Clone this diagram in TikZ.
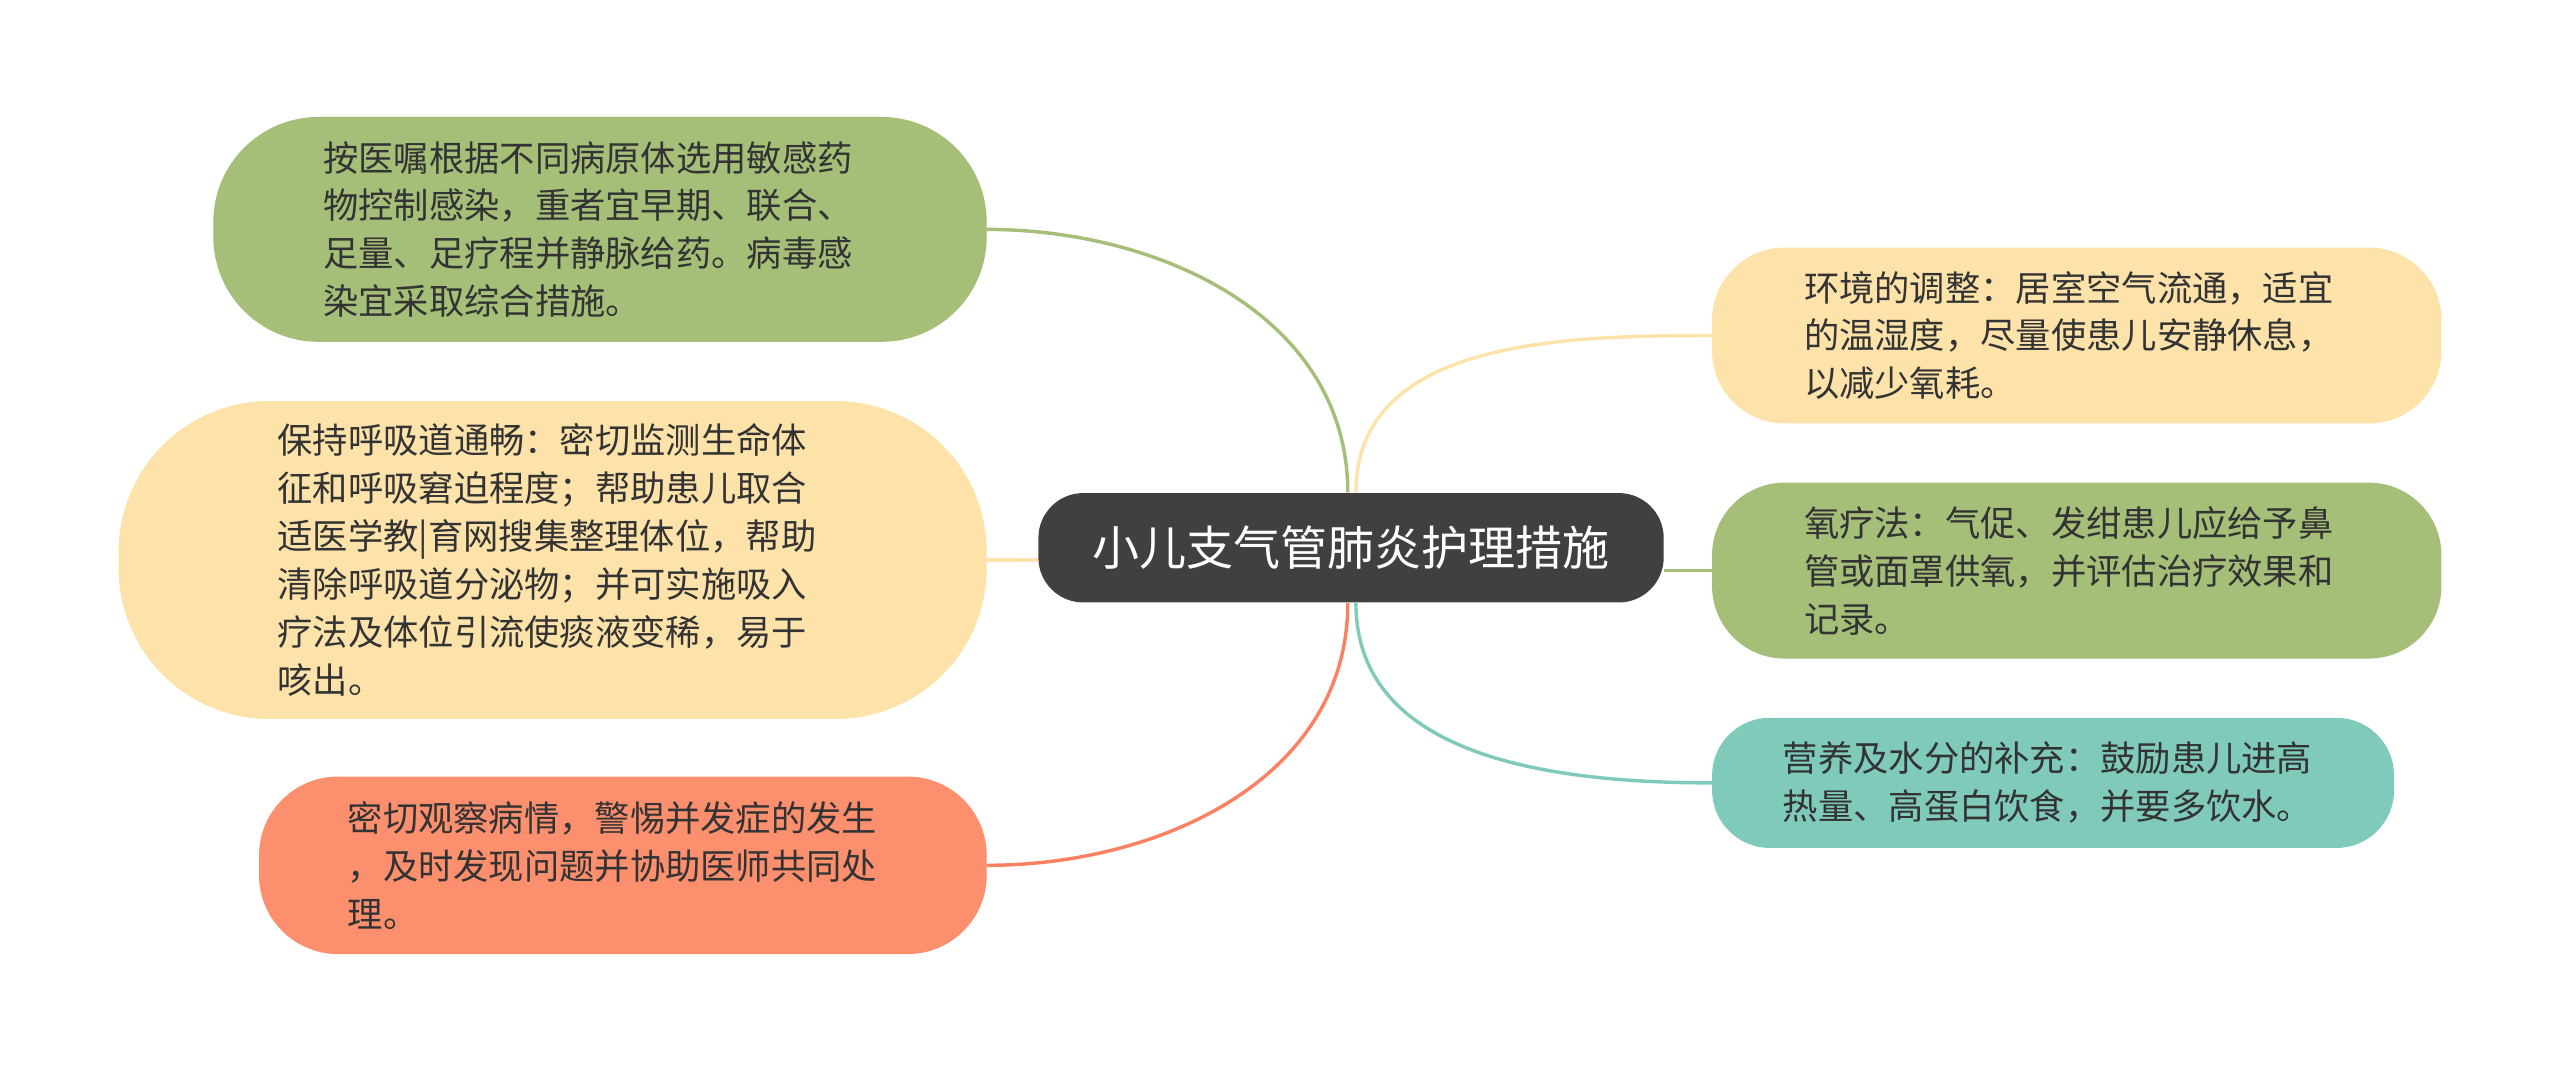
\documentclass[tikz,border=0pt]{standalone}
\usepackage{fontspec}
\newfontfamily\cjk{Noto Sans CJK SC}
\definecolor{rootgray}{HTML}{404040}
\definecolor{leafgreen}{HTML}{A5BE78}
\definecolor{leafyellow}{HTML}{FDE3A9}
\definecolor{leaforange}{HTML}{FC8F6E}
\definecolor{leafteal}{HTML}{7FCABB}
\definecolor{leaftext}{HTML}{333333}
\tikzset{
  root/.style={fill=rootgray, text=white, rounded corners=0.55cm, inner sep=0pt,
    minimum width=7.66cm, minimum height=1.34cm, font={\cjk\fontsize{16.4pt}{20pt}\selectfont}},
  leaf/.style={align=left, inner sep=0pt, text=leaftext,
    font={\cjk\fontsize{12.3pt}{16.7pt}\selectfont}},
  link/.style={line width=1.2pt}
}
\begin{document}
\begin{tikzpicture}
    \useasboundingbox (0,0) rectangle (31.36,13.12);
    \node[root] (root) at (16.55,6.41) {小儿支气管肺炎护理措施};
    % left side
    \node[leaf, fill=leafgreen, draw=leafgreen, rounded corners=1.28cm, minimum width=9.46cm,
      minimum height=2.74cm, text width=6.78cm] (drug) at (7.35,10.31)
      {按医嘱根据不同病原体选用敏感药\\物控制感染，重者宜早期、联合、\\足量、足疗程并静脉给药。病毒感\\染宜采取综合措施。};
    \node[leaf, fill=leafyellow, draw=leafyellow, rounded corners=1.84cm, minimum width=10.62cm,
      minimum height=3.88cm, text width=6.74cm] (airway) at (6.77,6.26)
      {保持呼吸道通畅：密切监测生命体\\征和呼吸窘迫程度；帮助患儿取合\\适医学教|育网搜集整理体位，帮助\\清除呼吸道分泌物；并可实施吸入\\疗法及体位引流使痰液变稀，易于\\咳出。};
    \node[leaf, fill=leaforange, draw=leaforange, rounded corners=0.96cm, minimum width=8.9cm,
      minimum height=2.16cm, text width=6.74cm] (watch) at (7.63,2.52)
      {密切观察病情，警惕并发症的发生\\，及时发现问题并协助医师共同处\\理。};
    % right side
    \node[leaf, fill=leafyellow, draw=leafyellow, rounded corners=0.88cm, minimum width=8.92cm,
      minimum height=2.14cm, text width=6.68cm] (room) at (25.44,9.01)
      {环境的调整：居室空气流通，适宜\\的温湿度，尽量使患儿安静休息，\\以减少氧耗。};
    \node[leaf, fill=leafgreen, draw=leafgreen, rounded corners=0.88cm, minimum width=8.92cm,
      minimum height=2.14cm, text width=6.68cm] (oxygen) at (25.44,6.13)
      {氧疗法：气促、发绀患儿应给予鼻\\管或面罩供氧，并评估治疗效果和\\记录。};
    \node[leaf, fill=leafteal, draw=leafteal, rounded corners=0.7cm, minimum width=8.34cm,
      minimum height=1.58cm, text width=6.62cm] (food) at (25.15,3.53)
      {营养及水分的补充：鼓励患儿进高\\热量、高蛋白饮食，并要多饮水。};
    % connectors
    \draw[link, leafgreen] ([xshift=-0.04cm]root.north) to[out=90,in=0] (drug.east);
    \draw[link, leafyellow] (airway.east) -- (airway.east -| root.west);
    \draw[link, leaforange!90!red] ([xshift=-0.04cm]root.south) to[out=-90,in=0] (watch.east);
    \draw[link, leafyellow] ([xshift=0.06cm]root.north) to[out=90,in=180] (room.west);
    \draw[link, leafgreen] (oxygen.west -| root.east) -- (oxygen.west);
    \draw[link, leafteal] ([xshift=0.06cm]root.south) to[out=-90,in=180] (food.west);
\end{tikzpicture}
\end{document}
